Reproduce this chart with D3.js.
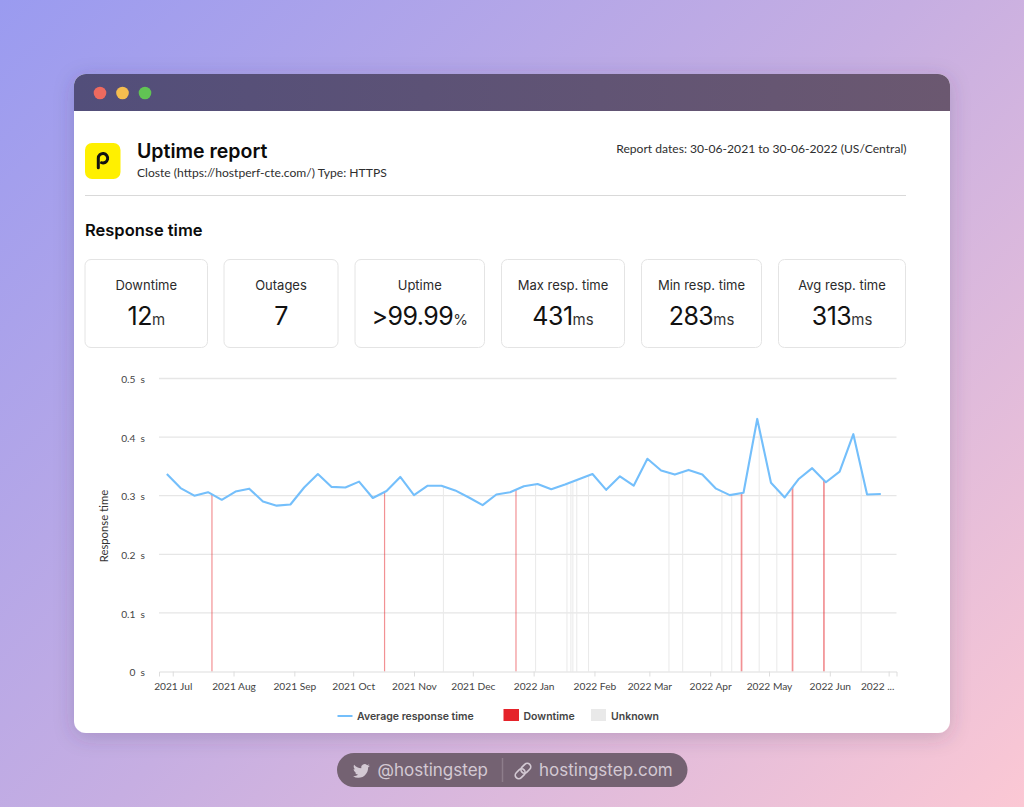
<!DOCTYPE html>
<html>
<head>
<meta charset="utf-8">
<script src="https://cdn.jsdelivr.net/npm/d3@7"></script>
<style>
    html, body { margin: 0; padding: 0; overflow: hidden; }
    svg { display: block; }
</style>
</head>
<body>
<div id="chart"></div>
<script>
const weeks = [
    "2021-06-28", "2021-07-05", "2021-07-12", "2021-07-19", "2021-07-26", "2021-08-02", "2021-08-09", "2021-08-16",
    "2021-08-23", "2021-08-30", "2021-09-06", "2021-09-13", "2021-09-20", "2021-09-27", "2021-10-04", "2021-10-11",
    "2021-10-18", "2021-10-25", "2021-11-01", "2021-11-08", "2021-11-15", "2021-11-22", "2021-11-29", "2021-12-06",
    "2021-12-13", "2021-12-20", "2021-12-27", "2022-01-03", "2022-01-10", "2022-01-17", "2022-01-24", "2022-01-31",
    "2022-02-07", "2022-02-14", "2022-02-21", "2022-02-28", "2022-03-07", "2022-03-14", "2022-03-21", "2022-03-28",
    "2022-04-04", "2022-04-11", "2022-04-18", "2022-04-25", "2022-05-02", "2022-05-09", "2022-05-16", "2022-05-23",
    "2022-05-30", "2022-06-06", "2022-06-13", "2022-06-20", "2022-06-27"
];

const avgResponse = [
    0.337, 0.313, 0.300, 0.306, 0.293, 0.307, 0.312, 0.290,
    0.283, 0.285, 0.314, 0.337, 0.315, 0.314, 0.324, 0.296,
    0.308, 0.332, 0.301, 0.317, 0.317, 0.309, 0.297, 0.284,
    0.302, 0.306, 0.316, 0.320, 0.311, 0.319, 0.328, 0.337,
    0.310, 0.333, 0.317, 0.363, 0.343, 0.336, 0.344, 0.336,
    0.312, 0.301, 0.305, 0.431, 0.322, 0.297, 0.328, 0.347,
    0.323, 0.341, 0.405, 0.302, 0.303
];

const downtimeDays = ["2021-07-21", "2021-10-17", "2021-12-23", "2022-04-17", "2022-05-13", "2022-05-29"];

const unknownDays = [
    "2021-11-16", "2022-01-02", "2022-01-18", "2022-01-20", "2022-01-21", "2022-01-23", "2022-01-29",
    "2022-03-11", "2022-03-18", "2022-04-07", "2022-04-12", "2022-04-26", "2022-05-05", "2022-06-17"
];

const monthTicks = [
    "2021-07-01", "2021-08-01", "2021-09-01", "2021-10-01", "2021-11-01", "2021-12-01", "2022-01-01",
    "2022-02-01", "2022-03-01", "2022-04-01", "2022-05-01", "2022-06-01", "2022-07-01"
];
const monthLabels = [
    "2021 Jul", "2021 Aug", "2021 Sep", "2021 Oct", "2021 Nov", "2021 Dec", "2022 Jan",
    "2022 Feb", "2022 Mar", "2022 Apr", "2022 May", "2022 Jun", "2022 ..."
];
const responseTicks = [0, 0.1, 0.2, 0.3, 0.4, 0.5];

const tileLabels = ["Downtime", "Outages", "Uptime", "Max resp. time", "Min resp. time", "Avg resp. time"];
const tileValues = ["12", "7", ">99.99", "431", "283", "313"];
const tileUnits = ["m", "", "%", "ms", "ms", "ms"];

const width = 1024;
const height = 807;
const plot = { left: 159, right: 896.5, top: 378.5, bottom: 671.5 };
const tileEdges = [[85, 207.5], [224, 338], [355, 484.5], [501.5, 624.5], [641.5, 761.5], [778.5, 905.5]];

const colors = {
    line: "#74bffb",
    downtime: "#e5232a",
    unknown: "#e9e9e9",
    grid: "#e6e6e6",
    axisText: "#444444"
};

const mainFont = "Inter, Lato, sans-serif";
const smallFont = "Lato, Inter, sans-serif";

const parseDay = d3.utcParse("%Y-%m-%d");

const svg = d3.select("#chart").append("svg")
    .attr("width", width)
    .attr("height", height)
    .attr("font-family", mainFont);

drawBackground();
drawWindow();
drawHeader();
drawTiles();
drawChart();
drawLegend();
drawFooter();

function drawBackground() {
    const defs = svg.append("defs");

    const bg = defs.append("linearGradient")
        .attr("id", "bg")
        .attr("gradientUnits", "userSpaceOnUse")
        .attr("x1", 0).attr("y1", 0)
        .attr("x2", 915).attr("y2", 915);
    bg.append("stop").attr("offset", "0%").attr("stop-color", "#9a9bf0");
    bg.append("stop").attr("offset", "50%").attr("stop-color", "#c6aee2");
    bg.append("stop").attr("offset", "100%").attr("stop-color", "#fbc8d4");

    const bar = defs.append("linearGradient")
        .attr("id", "bar")
        .attr("x1", 0).attr("y1", 0)
        .attr("x2", 1).attr("y2", 0);
    bar.append("stop").attr("offset", "0%").attr("stop-color", "#524e7a");
    bar.append("stop").attr("offset", "100%").attr("stop-color", "#6b5870");

    const shadow = defs.append("filter")
        .attr("id", "shadow")
        .attr("x", "-10%").attr("y", "-10%")
        .attr("width", "120%").attr("height", "120%");
    shadow.append("feDropShadow")
        .attr("dx", 0).attr("dy", 4)
        .attr("stdDeviation", 10)
        .attr("flood-color", "#40305a")
        .attr("flood-opacity", 0.22);

    defs.append("clipPath").attr("id", "barClip")
        .append("rect")
        .attr("x", 74).attr("y", 74)
        .attr("width", 876).attr("height", 37);

    svg.append("rect")
        .attr("width", width)
        .attr("height", height)
        .attr("fill", "url(#bg)");
}

function drawWindow() {
    svg.append("rect")
        .attr("x", 74).attr("y", 74)
        .attr("width", 876).attr("height", 659)
        .attr("rx", 12)
        .attr("fill", "#ffffff")
        .attr("filter", "url(#shadow)");

    svg.append("rect")
        .attr("x", 74).attr("y", 74)
        .attr("width", 876).attr("height", 60)
        .attr("rx", 12)
        .attr("fill", "url(#bar)")
        .attr("clip-path", "url(#barClip)");

    [[100, "#ee6a5f"], [122.5, "#f5bd4f"], [145, "#61c454"]].forEach(([cx, fill]) => {
        svg.append("circle")
            .attr("cx", cx).attr("cy", 93)
            .attr("r", 6.3)
            .attr("fill", fill);
    });
}

function drawHeader() {
    svg.append("rect")
        .attr("x", 85).attr("y", 143)
        .attr("width", 35.5).attr("height", 36)
        .attr("rx", 7)
        .attr("fill", "#fff000");

    svg.append("path")
        .attr("d", "M98.3 167.8V158.2a4.7 4.7 0 1 1 3.2 4.5")
        .attr("fill", "none")
        .attr("stroke", "#111111")
        .attr("stroke-width", 3)
        .attr("stroke-linecap", "round");

    svg.append("text")
        .attr("x", 137).attr("y", 157.5)
        .attr("font-size", 19.5)
        .attr("font-weight", 600)
        .attr("fill", "#0b0b0b")
        .text("Uptime report");

    svg.append("text")
        .attr("x", 137).attr("y", 177)
        .attr("font-family", smallFont)
        .attr("font-size", 12.1)
        .attr("fill", "#2e2e2e")
        .text("Closte (https://hostperf-cte.com/) Type: HTTPS");

    svg.append("text")
        .attr("x", 906.5).attr("y", 152.5)
        .attr("text-anchor", "end")
        .attr("font-family", smallFont)
        .attr("font-size", 12.1)
        .attr("fill", "#2e2e2e")
        .text("Report dates: 30-06-2021 to 30-06-2022 (US/Central)");

    svg.append("line")
        .attr("x1", 85).attr("x2", 906)
        .attr("y1", 195.5).attr("y2", 195.5)
        .attr("stroke", "#d9d9d9");

    svg.append("text")
        .attr("x", 85).attr("y", 236)
        .attr("font-size", 16.5)
        .attr("font-weight", 600)
        .attr("fill", "#0b0b0b")
        .text("Response time");
}

function drawTiles() {
    const tiles = svg.append("g")
        .selectAll("g")
        .data(tileLabels)
        .join("g");

    tiles.append("rect")
        .attr("x", (d, i) => tileEdges[i][0])
        .attr("y", 259.5)
        .attr("width", (d, i) => tileEdges[i][1] - tileEdges[i][0])
        .attr("height", 88)
        .attr("rx", 6)
        .attr("fill", "#ffffff")
        .attr("stroke", "#e4e4e4");

    tiles.append("text")
        .attr("x", (d, i) => (tileEdges[i][0] + tileEdges[i][1]) / 2)
        .attr("y", 290)
        .attr("text-anchor", "middle")
        .attr("font-size", 13)
        .attr("fill", "#2b2b2b")
        .text(d => d);

    const values = tiles.append("text")
        .attr("x", (d, i) => (tileEdges[i][0] + tileEdges[i][1]) / 2)
        .attr("y", 325)
        .attr("text-anchor", "middle")
        .attr("fill", "#111111");

    values.append("tspan")
        .attr("font-size", 25)
        .attr("letter-spacing", -0.5)
        .text((d, i) => tileValues[i]);

    values.append("tspan")
        .attr("font-size", 15)
        .attr("fill", "#333333")
        .text((d, i) => tileUnits[i]);
}

function drawChart() {
    const series = weeks.map((w, i) => ({ date: parseDay(w), value: avgResponse[i] }));

    const x = d3.scaleUtc()
        .domain([parseDay("2021-06-24"), parseDay("2022-07-05")])
        .range([plot.left, plot.right]);

    const y = d3.scaleLinear()
        .domain([0, 0.5])
        .range([plot.bottom, plot.top]);

    const chart = svg.append("g");

    // horizontal grid
    chart.append("g")
        .selectAll("line")
        .data(responseTicks.filter(t => t > 0))
        .join("line")
        .attr("x1", plot.left)
        .attr("x2", plot.right)
        .attr("y1", d => y(d))
        .attr("y2", d => y(d))
        .attr("stroke", colors.grid)
        .attr("stroke-width", 1.3);

    // event marks reach up to the response line
    const bisect = d3.bisector(d => d.date).left;
    const lineValueAt = date => {
        const i = bisect(series, date);
        const a = series[i - 1];
        const b = series[i];
        return d3.interpolateNumber(a.value, b.value)((date - a.date) / (b.date - a.date));
    };

    chart.append("g")
        .selectAll("line")
        .data(unknownDays.map(parseDay))
        .join("line")
        .attr("x1", d => x(d))
        .attr("x2", d => x(d))
        .attr("y1", y(0))
        .attr("y2", d => y(lineValueAt(d)))
        .attr("stroke", colors.unknown)
        .attr("stroke-width", 1);

    // the 2022 spring and summer outages are drawn wider in the original
    chart.append("g")
        .selectAll("line")
        .data(downtimeDays.map(parseDay))
        .join("line")
        .attr("x1", d => x(d))
        .attr("x2", d => x(d))
        .attr("y1", y(0))
        .attr("y2", d => y(lineValueAt(d)))
        .attr("stroke", colors.downtime)
        .attr("stroke-opacity", 0.5)
        .attr("stroke-width", d => d >= parseDay("2022-04-01") ? 1.7 : 1.2);

    const line = d3.line()
        .x(d => x(d.date))
        .y(d => y(d.value));

    chart.append("path")
        .datum(series)
        .attr("d", line)
        .attr("fill", "none")
        .attr("stroke", colors.line)
        .attr("stroke-width", 2.1)
        .attr("stroke-linejoin", "round");

    // axes
    const xAxis = d3.axisBottom(x)
        .tickValues(monthTicks.map(parseDay))
        .tickSize(5)
        .tickPadding(6.5)
        .tickFormat((d, i) => monthLabels[i]);

    const xGroup = chart.append("g")
        .attr("transform", `translate(0, ${plot.bottom})`)
        .call(xAxis);
    xGroup.select(".domain").attr("stroke", "#dddddd");
    xGroup.selectAll(".tick line").attr("stroke", "#dddddd");
    xGroup.selectAll(".tick text")
        .attr("font-family", smallFont)
        .attr("font-size", 10.2)
        .attr("fill", colors.axisText);
    xGroup.selectAll(".tick:last-of-type text").attr("dx", -11.5);

    const yAxis = d3.axisLeft(y)
        .tickValues(responseTicks)
        .tickSize(0)
        .tickPadding(14)
        .tickFormat(d => `${d}\u00a0\u00a0s`);

    const yGroup = chart.append("g")
        .attr("transform", `translate(${plot.left}, 1)`)
        .call(yAxis);
    yGroup.select(".domain").remove();
    yGroup.selectAll(".tick text")
        .attr("font-family", smallFont)
        .attr("font-size", 10.2)
        .attr("fill", colors.axisText);

    chart.append("text")
        .attr("transform", "translate(108, 526) rotate(-90)")
        .attr("text-anchor", "middle")
        .attr("font-family", smallFont)
        .attr("font-size", 11.3)
        .attr("fill", "#333333")
        .text("Response time");
}

function drawLegend() {
    const legend = svg.append("g")
        .attr("font-size", 10.5)
        .attr("font-weight", 600)
        .attr("fill", colors.axisText);

    legend.append("line")
        .attr("x1", 337.5).attr("x2", 352.5)
        .attr("y1", 716).attr("y2", 716)
        .attr("stroke", colors.line)
        .attr("stroke-width", 2);
    legend.append("text")
        .attr("x", 357).attr("y", 720)
        .text("Average response time");

    legend.append("rect")
        .attr("x", 503.5).attr("y", 709)
        .attr("width", 15.5).attr("height", 12)
        .attr("fill", colors.downtime);
    legend.append("text")
        .attr("x", 523.5).attr("y", 720)
        .text("Downtime");

    legend.append("rect")
        .attr("x", 591).attr("y", 709)
        .attr("width", 15).attr("height", 12)
        .attr("fill", colors.unknown);
    legend.append("text")
        .attr("x", 611).attr("y", 720)
        .text("Unknown");
}

function drawFooter() {
    const footer = svg.append("g");
    const ink = "#d3c9d3";

    footer.append("rect")
        .attr("x", 337).attr("y", 753)
        .attr("width", 350.5).attr("height", 34)
        .attr("rx", 17)
        .attr("fill", "#746272");

    footer.append("path")
        .attr("transform", "translate(353, 762.5) scale(0.7)")
        .attr("fill", ink)
        .attr("d", "M23.953 4.57a10 10 0 01-2.825.775 4.958 4.958 0 002.163-2.723c-.951.555-2.005.959-3.127 1.184a4.92 4.92 0 00-8.384 4.482C7.69 8.095 4.067 6.13 1.64 3.162a4.822 4.822 0 00-.666 2.475c0 1.71.87 3.213 2.188 4.096a4.904 4.904 0 01-2.228-.616v.06a4.923 4.923 0 003.946 4.827 4.996 4.996 0 01-2.212.085 4.936 4.936 0 004.604 3.417 9.867 9.867 0 01-6.102 2.105c-.39 0-.779-.023-1.17-.067a13.995 13.995 0 007.557 2.209c9.053 0 13.998-7.496 13.998-13.985 0-.21 0-.42-.015-.63A9.935 9.935 0 0024 4.59z");

    footer.append("text")
        .attr("x", 377.5).attr("y", 776)
        .attr("font-size", 17)
        .attr("fill", ink)
        .text("@hostingstep");

    footer.append("line")
        .attr("x1", 502.5).attr("x2", 502.5)
        .attr("y1", 758).attr("y2", 782)
        .attr("stroke", "#8d7d8b")
        .attr("stroke-width", 1.5);

    const link = footer.append("g")
        .attr("transform", "translate(523, 771) rotate(-45)")
        .attr("fill", "none")
        .attr("stroke", ink)
        .attr("stroke-width", 1.7);
    link.append("rect").attr("x", -9.5).attr("y", -3.5).attr("width", 11).attr("height", 7).attr("rx", 3.5);
    link.append("rect").attr("x", -1.5).attr("y", -3.5).attr("width", 11).attr("height", 7).attr("rx", 3.5);

    footer.append("text")
        .attr("x", 539).attr("y", 776)
        .attr("font-size", 17)
        .attr("fill", ink)
        .text("hostingstep.com");
}
</script>
</body>
</html>
